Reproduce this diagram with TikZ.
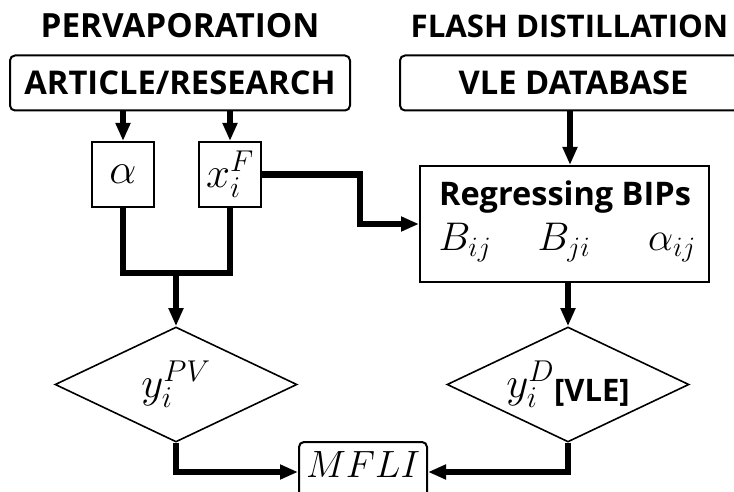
\RequirePackage{fix-cm}
\documentclass[tikz,border=0pt]{standalone}
\usepackage{fontspec}
\setmainfont{Open Sans}
\usetikzlibrary{arrows.meta,shapes.geometric}
\begin{document}
\begin{tikzpicture}[x=1pt,y=-1pt,
  box/.style={draw,line width=2pt,inner sep=0pt},
  rbox/.style={box,rounded corners=5pt},
  dia/.style={draw,diamond,shape aspect=2.1,line width=1.6pt,inner sep=0pt,minimum width=242pt,minimum height=115pt},
  conn/.style={line width=6.5pt},
  arr/.style={conn,-{Triangle[length=18pt,width=14pt]}},
  ttl/.style={anchor=base,font=\bfseries\fontsize{32.5}{40}\selectfont},
  hd/.style={font=\bfseries\fontsize{32.7}{40}\selectfont,text height=23pt,text depth=0pt},
  bigm/.style={font=\fontsize{43}{52}\selectfont},
  bm/.style={anchor=base,font=\fontsize{40}{48}\selectfont}
]
\clip (0,0) rectangle (734,492);
\node[ttl,font=\bfseries\fontsize{33.3}{40}\selectfont] (t1) at (180,38) {PERVAPORATION};
\node[ttl,font=\bfseries\fontsize{31.2}{38}\selectfont] (t2) at (569.5,38) {FLASH DISTILLATION};
\node[rbox,hd,minimum width=340pt,minimum height=55pt] (art) at (180,83) {ARTICLE/RESEARCH};
\node[rbox,hd,minimum width=347pt,minimum height=55pt] (vle) at (573.5,83) {VLE DATABASE};
\node[box,bigm,minimum width=62pt,minimum height=65pt] (al) at (123,174.5) {$\alpha$};
\node[box,bigm,minimum width=62pt,minimum height=65pt] (xf) at (230,174.5) {$x_i^F$};
\node[box,minimum width=289pt,minimum height=116pt] (reg) at (564.5,224) {};
\node[anchor=base,font=\bfseries\fontsize{32.5}{38}\selectfont] (regt) at (565,205) {Regressing BIPs};
\node[bm] (b1) at (465,250) {$B_{ij}$};
\node[bm] (b2) at (564,250) {$B_{ji}$};
\node[bm] (b3) at (672,250) {$\alpha_{ij}$};
\node[dia,bigm] (pv) at (176,384.5) {$y_i^{PV}$};
\node[dia,bigm] (dv) at (568,384.5) {$y_i^{D}$\raisebox{-4pt}{\bfseries\fontsize{31}{37}\selectfont[VLE]}};
\node[rbox,font=\fontsize{38}{46}\selectfont,text height=25pt,text depth=15pt,minimum width=128pt,minimum height=60pt] (mf) at (363,472) {$MFLI$};
\coordinate (jn) at (176,273);
\coordinate (c1) at (360,224);
\coordinate (vx) at (570,0);
\draw[arr] (art.south -| al.north) -- (al.north);
\draw[arr] (art.south -| xf.north) -- (xf.north);
\draw[conn] (al.south) |- (jn) -| (xf.south);
\draw[arr] (jn) -- (pv.north);
\draw[arr] (xf.east) -| (c1) -- (reg.west);
\draw[arr] (vle.south -| vx) -- (reg.north -| vx);
\draw[arr] (reg.south -| dv.north) -- (dv.north);
\draw[arr] (pv.south) |- (mf.west);
\draw[arr] (dv.south) |- (mf.east);
\end{tikzpicture}
\end{document}
